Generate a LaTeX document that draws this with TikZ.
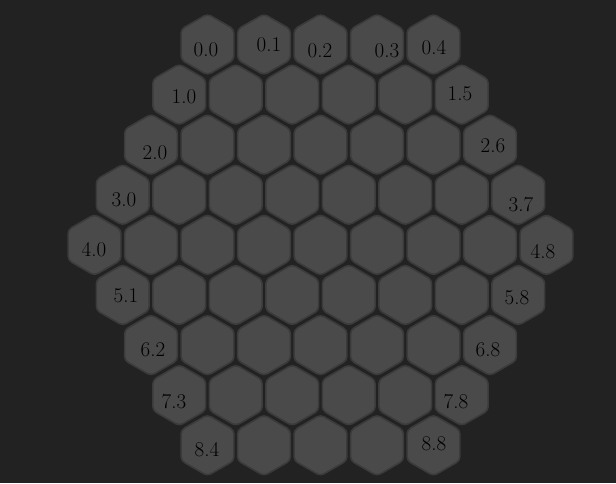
\documentclass[tikz,border=0pt]{standalone}
\usetikzlibrary{shapes.geometric}
\definecolor{bgc}{HTML}{222222}
\definecolor{hexfill}{HTML}{4A4A4A}
\definecolor{hexedge}{HTML}{3B3B3B}
\tikzset{
  hexcell/.style={regular polygon, regular polygon sides=6, shape border rotate=30,
    minimum size=61pt, inner sep=0pt, outer sep=0pt, fill=hexfill, draw=hexedge,
    line width=1.6pt, rounded corners=4pt},
  celltext/.style={text=black, font=\fontsize{21}{21}\selectfont, inner sep=0pt}
}
\begin{document}
\begin{tikzpicture}[x=1pt,y=-1pt]
\fill[bgc] (0,0) rectangle (616,483);
\useasboundingbox (0,0) rectangle (616,483);
\foreach \r in {0,...,8}{
  \pgfmathtruncatemacro{\n}{9-abs(\r-4)}
  \pgfmathtruncatemacro{\last}{\n-1}
  \foreach \c in {0,...,\last}{
    \pgfmathsetmacro{\xx}{320.5-(\n-1)/2*56.5+\c*56.5}
    \pgfmathsetmacro{\yy}{44.5+\r*50.1}
    \node[hexcell] (h\r-\c) at (\xx,\yy) {};
  }
}
\node[celltext] (l0-0) at (206,50) {0.0};
\node[celltext] (l0-1) at (269,45) {0.1};
\node[celltext] (l0-2) at (320,51) {0.2};
\node[celltext] (l0-3) at (387,51) {0.3};
\node[celltext] (l0-4) at (434,48) {0.4};
\node[celltext] (l1-0) at (184,97) {1.0};
\node[celltext] (l1-5) at (460,94) {1.5};
\node[celltext] (l2-0) at (155,153) {2.0};
\node[celltext] (l2-6) at (493,146) {2.6};
\node[celltext] (l3-0) at (124,200) {3.0};
\node[celltext] (l3-7) at (521,205) {3.7};
\node[celltext] (l4-0) at (94,250) {4.0};
\node[celltext] (l4-8) at (543,252) {4.8};
\node[celltext] (l5-1) at (126,296) {5.1};
\node[celltext] (l5-8) at (517,298) {5.8};
\node[celltext] (l6-2) at (153,350) {6.2};
\node[celltext] (l6-8) at (488,350) {6.8};
\node[celltext] (l7-3) at (174,402) {7.3};
\node[celltext] (l7-8) at (456,402) {7.8};
\node[celltext] (l8-4) at (207,450) {8.4};
\node[celltext] (l8-8) at (434,444) {8.8};
\end{tikzpicture}
\end{document}
